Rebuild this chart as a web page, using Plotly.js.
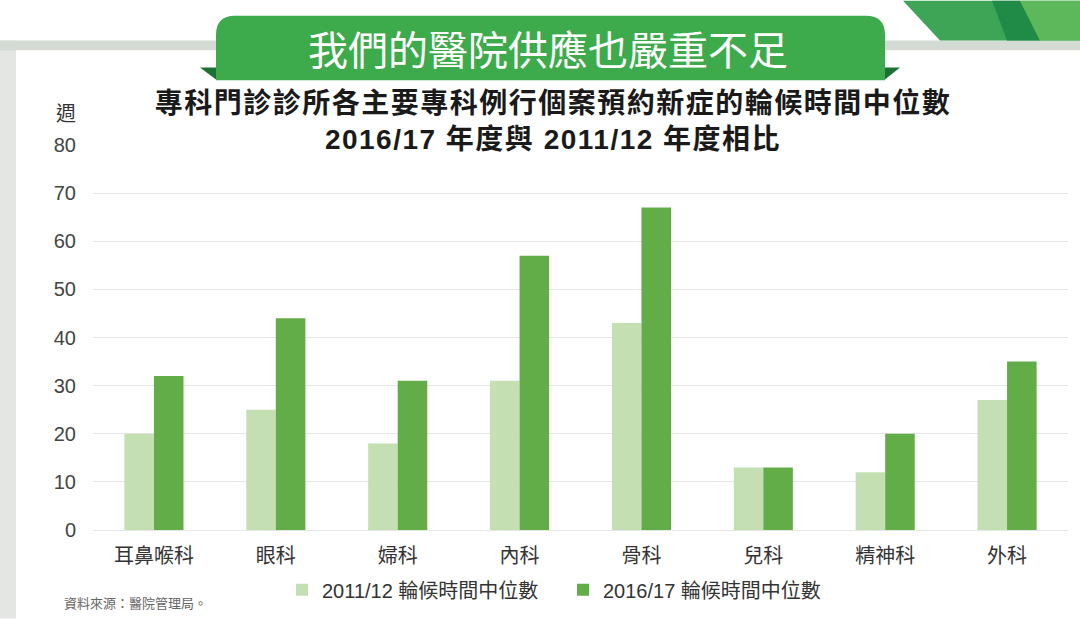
<!DOCTYPE html>
<html>
<head>
<meta charset="utf-8">
<script src="https://cdn.plot.ly/plotly-3.0.1.min.js"></script>
<style>
html,body{margin:0;padding:0;background:#fff;}
#chart{width:1080px;height:621px;}
.gtitle{letter-spacing:1.5px;}
</style>
</head>
<body>
<div id="chart"></div>
<script>
// ---- data ----
const categories = ['耳鼻喉科','眼科','婦科','內科','骨科','兒科','精神科','外科'];
const series2011 = [20, 25, 18, 31, 43, 13, 12, 27];
const series2016 = [32, 44, 31, 57, 67, 13, 20, 35];
const seriesNames = ['2011/12 輪候時間中位數','2016/17 輪候時間中位數'];
const yTicks = [0,10,20,30,40,50,60,70,80];
const bannerText = '我們的醫院供應也嚴重不足';
const titleText = '專科門診診所各主要專科例行個案預約新症的輪候時間中位數<br>2016/17 年度與 2011/12 年度相比';
const yUnit = '週';
const sourceText = '資料來源：醫院管理局。';

// ---- layout helpers (pixel -> paper) ----
const L = 93, R = 1068, T = 145, B = 532;
const X = p => (p - L) / (R - L);
const Y = p => (B - p) / (B - T);
const pt = (x, y) => X(x).toFixed(5) + ',' + Y(y).toFixed(5);
const poly = pts => 'M' + pts.map(p => pt(p[0], p[1])).join(' L') + ' Z';

const FONT = 'Liberation Sans, Arial, Noto Sans CJK TC, sans-serif';

const shapes = [
  // left gray strip
  {type:'rect', xref:'paper', yref:'paper', layer:'below', x0:X(0), x1:X(16), y0:Y(621), y1:Y(40), fillcolor:'#e3e6e3', line:{width:0}},
  // top gray bar
  {type:'rect', xref:'paper', yref:'paper', layer:'below', x0:X(0), x1:X(1080), y0:Y(50), y1:Y(40), fillcolor:'#d4dad4', line:{width:0}},
  // white panel with rounded bottom-left corner
  {type:'path', xref:'paper', yref:'paper', layer:'below',
   path:'M' + pt(16,50) + ' L' + pt(1080,50) + ' L' + pt(1080,621) + ' L' + pt(46,621) +
        ' Q' + pt(16,621) + ' ' + pt(16,591) + ' Z',
   fillcolor:'#ffffff', line:{width:0}},
  // top-right stripes
  {type:'path', xref:'paper', yref:'paper', layer:'below', path:poly([[903,0],[1080,0],[1080,40],[940,40]]), fillcolor:'#3ea557', line:{width:0}},
  {type:'path', xref:'paper', yref:'paper', layer:'below', path:poly([[992,0],[1020,0],[1040,40],[1007,40]]), fillcolor:'#1f8b46', line:{width:0}},
  {type:'path', xref:'paper', yref:'paper', layer:'below', path:poly([[1020,0],[1080,0],[1080,40],[1040,40]]), fillcolor:'#5db85b', line:{width:0}},
  // banner folds
  {type:'path', xref:'paper', yref:'paper', layer:'below', path:poly([[200,67],[217,67],[217,80]]), fillcolor:'#1c7034', line:{width:0}},
  {type:'path', xref:'paper', yref:'paper', layer:'below', path:poly([[884,67],[900,67],[884,80]]), fillcolor:'#1c7034', line:{width:0}},
  // banner
  {type:'path', xref:'paper', yref:'paper', layer:'below',
   path:'M' + pt(216,80) + ' L' + pt(216,34) + ' Q' + pt(216,15) + ' ' + pt(235,15) +
        ' L' + pt(866,15) + ' Q' + pt(885,15) + ' ' + pt(885,34) + ' L' + pt(885,80) + ' Z',
   fillcolor:'#3dab4b', line:{width:0}}
];

const annotations = [
  {xref:'paper', yref:'paper', x:X(548), y:Y(47), text:bannerText, showarrow:false,
   xanchor:'center', yanchor:'middle', font:{family:'Noto Sans CJK TC, sans-serif', size:40, color:'#ffffff'}},
  {xref:'paper', yref:'paper', x:X(66), y:Y(112), text:yUnit, showarrow:false,
   xanchor:'center', yanchor:'middle', font:{family:'Noto Sans CJK TC, sans-serif', size:20, color:'#333333'}},
  {xref:'paper', yref:'paper', x:X(62), y:Y(605), text:sourceText, showarrow:false,
   xanchor:'left', yanchor:'middle', font:{family:'Noto Sans CJK TC, sans-serif', size:13, color:'#666666'}}
];

const traces = [
  {type:'bar', name:seriesNames[0], x:categories, y:series2011, marker:{color:'#c4e0b2'}, hoverinfo:'y'},
  {type:'bar', name:seriesNames[1], x:categories, y:series2016, marker:{color:'#62ad47'}, hoverinfo:'y'}
];

const layout = {
  width:1080, height:621,
  margin:{l:L, r:1080-R, t:T, b:621-B, pad:0},
  paper_bgcolor:'#ffffff',
  plot_bgcolor:'rgba(0,0,0,0)',
  font:{family:FONT, size:20, color:'#333333'},
  title:{text:'<b>' + titleText + '</b>', xref:'container', x:553/1080, xanchor:'center', y:1 - 113/621, yanchor:'middle',
         font:{family:FONT, size:28, color:'#1a1a1a'}},
  barmode:'group', bargap:0.515, bargroupgap:0,
  showlegend:true,
  legend:{orientation:'h', x:X(282), y:Y(592), xanchor:'left', yanchor:'middle',
          font:{family:FONT, size:20, color:'#333333'}, bgcolor:'rgba(0,0,0,0)',
          entrywidth:236, entrywidthmode:'pixels', itemwidth:30},
  xaxis:{type:'category', showgrid:false, zeroline:false, showline:false, ticks:'',
         tickfont:{family:FONT, size:20, color:'#333333'}, ticklabelstandoff:12, fixedrange:true},
  yaxis:{range:[0,80], tickvals:yTicks, ticktext:yTicks.map(String), showgrid:true, gridcolor:'#e6e6e6', gridwidth:1,
         zeroline:true, zerolinecolor:'#e6e6e6', zerolinewidth:1, showline:false, ticks:'',
         tickfont:{family:FONT, size:20, color:'#444444'}, ticklabelstandoff:16, fixedrange:true},
  shapes:shapes,
  annotations:annotations
};

Plotly.newPlot('chart', traces, layout, {displayModeBar:false, staticPlot:true});
</script>
</body>
</html>
